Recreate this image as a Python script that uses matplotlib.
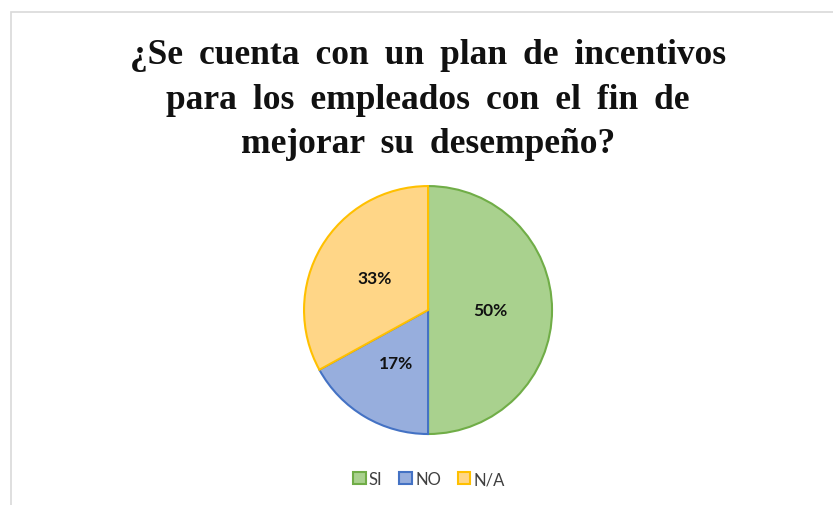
import matplotlib
matplotlib.use('Agg')
import matplotlib.pyplot as plt
from matplotlib.patches import Rectangle

# Data
categories = ['SI', 'NO', 'N/A']
shares = [50, 17, 33]
fills = ['#A9D18E', '#97AEDD', '#FFD687']
edges = ['#70AD47', '#4472C4', '#FFC000']
title_lines = ['¿Se cuenta con un plan de incentivos',
               'para los empleados con el fin de',
               'mejorar su desempeño?']

fig = plt.figure(figsize=(8.33, 5.06), dpi=100)

# chart border (left and top edges visible)
fig.patches.append(Rectangle((11/833, -0.1), 1.2, (506-13)/506 + 0.1, transform=fig.transFigure,
                             fill=False, edgecolor='#D9D9D9', linewidth=1.2))

ax = fig.add_axes((0.365, 0.1403, 0.2977, 0.490))
wedges, texts, autotexts = ax.pie(shares, colors=fills, startangle=90, counterclock=False,
                                  autopct='%.0f%%', pctdistance=0.5,
                                  wedgeprops=dict(linewidth=1.5),
                                  textprops=dict(fontsize=12.5, fontweight='bold', color='#111111',
                                                 family='Lato'))
for w, ec in zip(wedges, edges):
    w.set_edgecolor(ec)
ax.set_xlim(-1.0, 1.0)
ax.set_ylim(-1.0, 1.0)
ax.set_aspect('auto')

# wider word gaps like the original title
title = '\n'.join(l.replace(' ', ' \u2009') for l in title_lines)
fig.text(0.514, 0.802, title, ha='center', va='center', fontsize=25.5, fontweight='bold',
         family='Liberation Serif', linespacing=1.45, color='#111111')

leg = fig.legend(wedges, categories, loc='center', bbox_to_anchor=(0.515, 0.051), ncol=3,
                 frameon=False, handlelength=0.75, handleheight=0.75, handletextpad=0.2,
                 columnspacing=1.0, prop=dict(family='Lato', size=12))
for t in leg.get_texts():
    t.set_color('#404040')

fig.savefig('out.png', dpi=100)
